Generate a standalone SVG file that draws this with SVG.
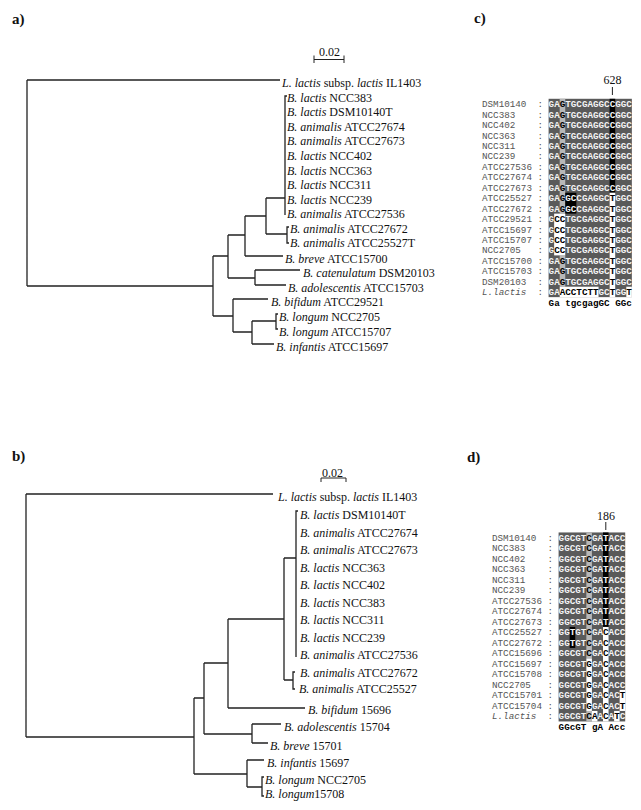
<svg xmlns="http://www.w3.org/2000/svg" width="641" height="810" viewBox="0 0 641 810">
<style>
.bg{fill:#fff}
.t{font-family:"Liberation Serif",serif;font-size:12px;fill:#111}
.i{font-style:italic}
.lbl{font-family:"Liberation Serif",serif;font-weight:bold;font-size:15px;fill:#111}
.m{font-family:"Liberation Mono",monospace;font-size:9.25px}
.nm{fill:#555}
.sq{font-weight:bold}
.w{fill:#f4f4f4}
.k{fill:#000}
.dg{fill:#5a5a5a}
.lg{fill:#b8b8b8}
.bk{fill:#000}
.wh{fill:#fff}
.ln{fill:none;stroke:#222;stroke-width:1.3}
.tk{fill:none;stroke:#222;stroke-width:1}
</style>
<rect class="bg" x="0" y="0" width="641" height="810"/>

<!-- panel labels -->
<text class="lbl" x="12" y="24">a)</text>
<text class="lbl" x="474" y="23">c)</text>
<text class="lbl" x="12" y="461">b)</text>
<text class="lbl" x="467" y="462">d)</text>

<!-- scale bars -->
<g id="scale-a">
<text class="t" x="319" y="56">0.02</text>
<path class="tk" d="M314 55.5V63M314 59.5H344M344 55.5V63"/>
</g>
<g id="scale-b">
<text class="t" x="322" y="476.5">0.02</text>
<path class="tk" d="M321 478H346M321 478V482M346 478V482"/>
</g>

<!-- tree a connectors -->
<g id="connectors-a">
<path class="ln" d="M27 80H280M27 80V286M27 286H213M213 256V316M213 256H228M228 235V278M228 235H245M245 216V256M245 216H266M266 198V234M266 198H285M287 96H285V215M266 234H287M289 227H287V243H289M245 256H283M228 278H255M255 270V285M255 270H300M255 285H286M213 316H233M233 299V332M233 299H268M233 332H252M252 321V344M252 321H276M278 314H276V329H278M252 344H274"/>
</g>

<!-- tree a leaves -->
<g id="a-llactis"><text class="t" x="282" y="87"><tspan class="i">L. lactis</tspan> subsp. <tspan class="i">lactis</tspan> IL1403</text></g>
<g id="a-ncc383"><text class="t" x="287" y="101.5"><tspan class="i">B. lactis</tspan> NCC383</text></g>
<g id="a-dsm10140t"><text class="t" x="287" y="116.1"><tspan class="i">B. lactis</tspan> DSM10140T</text></g>
<g id="a-atcc27674"><text class="t" x="287" y="130.7"><tspan class="i">B. animalis</tspan> ATCC27674</text></g>
<g id="a-atcc27673"><text class="t" x="287" y="145.3"><tspan class="i">B. animalis</tspan> ATCC27673</text></g>
<g id="a-ncc402"><text class="t" x="287" y="159.9"><tspan class="i">B. lactis</tspan> NCC402</text></g>
<g id="a-ncc363"><text class="t" x="287" y="174.5"><tspan class="i">B. lactis</tspan> NCC363</text></g>
<g id="a-ncc311"><text class="t" x="287" y="189.1"><tspan class="i">B. lactis</tspan> NCC311</text></g>
<g id="a-ncc239"><text class="t" x="287" y="203.7"><tspan class="i">B. lactis</tspan> NCC239</text></g>
<g id="a-atcc27536"><text class="t" x="287" y="218.3"><tspan class="i">B. animalis</tspan> ATCC27536</text></g>
<g id="a-atcc27672"><text class="t" x="290" y="233"><tspan class="i">B. animalis</tspan> ATCC27672</text></g>
<g id="a-atcc25527t"><text class="t" x="290" y="247"><tspan class="i">B. animalis</tspan> ATCC25527T</text></g>
<g id="a-breve"><text class="t" x="285" y="263"><tspan class="i">B. breve</tspan> ATCC15700</text></g>
<g id="a-catenulatum"><text class="t" x="303" y="277"><tspan class="i">B. catenulatum</tspan> DSM20103</text></g>
<g id="a-adolescentis"><text class="t" x="288" y="292"><tspan class="i">B. adolescentis</tspan> ATCC15703</text></g>
<g id="a-bifidum"><text class="t" x="271" y="306"><tspan class="i">B. bifidum</tspan> ATCC29521</text></g>
<g id="a-longum1"><text class="t" x="279" y="321"><tspan class="i">B. longum</tspan> NCC2705</text></g>
<g id="a-longum2"><text class="t" x="279" y="336"><tspan class="i">B. longum</tspan> ATCC15707</text></g>
<g id="a-infantis"><text class="t" x="276" y="351"><tspan class="i">B. infantis</tspan> ATCC15697</text></g>

<!-- tree b connectors -->
<g id="connectors-b">
<path class="ln" d="M26 494H273M26 494V737M26 737H194M194 698V774M194 698H204M204 663V734M204 663H228M228 619V708M228 619H284M284 558V680M284 558H296M298 511H296V657M284 680H293M295 672H293V689H295M228 708H305M204 734H252M252 724V743M252 724H281M252 743H268M194 774H247M247 760V787M247 760H264M247 787H262M264 777H262V796H264"/>
</g>

<!-- tree b leaves -->
<g id="b-llactis"><text class="t" x="278" y="501"><tspan class="i">L. lactis</tspan> subsp. <tspan class="i">lactis</tspan> IL1403</text></g>
<g id="b-dsm10140t"><text class="t" x="300" y="519"><tspan class="i">B. lactis</tspan> DSM10140T</text></g>
<g id="b-atcc27674"><text class="t" x="300" y="536.5"><tspan class="i">B. animalis</tspan> ATCC27674</text></g>
<g id="b-atcc27673"><text class="t" x="300" y="554"><tspan class="i">B. animalis</tspan> ATCC27673</text></g>
<g id="b-ncc363"><text class="t" x="300" y="571.5"><tspan class="i">B. lactis</tspan> NCC363</text></g>
<g id="b-ncc402"><text class="t" x="300" y="589"><tspan class="i">B. lactis</tspan> NCC402</text></g>
<g id="b-ncc383"><text class="t" x="300" y="606.5"><tspan class="i">B. lactis</tspan> NCC383</text></g>
<g id="b-ncc311"><text class="t" x="300" y="624"><tspan class="i">B. lactis</tspan> NCC311</text></g>
<g id="b-ncc239"><text class="t" x="300" y="641.5"><tspan class="i">B. lactis</tspan> NCC239</text></g>
<g id="b-atcc27536"><text class="t" x="300" y="659"><tspan class="i">B. animalis</tspan> ATCC27536</text></g>
<g id="b-atcc27672"><text class="t" x="300" y="677"><tspan class="i">B. animalis</tspan> ATCC27672</text></g>
<g id="b-atcc25527"><text class="t" x="299" y="693"><tspan class="i">B. animalis</tspan> ATCC25527</text></g>
<g id="b-bifidum"><text class="t" x="308" y="714"><tspan class="i">B. bifidum</tspan> 15696</text></g>
<g id="b-adolescentis"><text class="t" x="284" y="731"><tspan class="i">B. adolescentis</tspan> 15704</text></g>
<g id="b-breve"><text class="t" x="270" y="750"><tspan class="i">B. breve</tspan> 15701</text></g>
<g id="b-infantis"><text class="t" x="267" y="767"><tspan class="i">B. infantis</tspan> 15697</text></g>
<g id="b-longum1"><text class="t" x="265" y="784"><tspan class="i">B. longum</tspan> NCC2705</text></g>
<g id="b-longum2"><text class="t" x="265" y="798"><tspan class="i">B. longum</tspan>15708</text></g>

<!-- alignment c -->
<g id="align-c">
<text class="t" x="612.4" y="84" text-anchor="middle">628</text>
<path class="tk" d="M612.4 87V95"/>
<rect class="dg" x="548.6" y="98.78" width="83.25" height="198.36"/>
<rect class="lg" x="559.7" y="98.78" width="5.55" height="114.84"/>
<rect class="lg" x="559.7" y="255.38" width="5.55" height="31.32"/>
<rect class="bk" x="609.65" y="98.78" width="5.55" height="93.96"/>
<rect class="bk" x="565.25" y="192.74" width="11.1" height="20.88"/>
<rect class="wh" x="609.65" y="192.74" width="5.55" height="104.4"/>
<rect class="wh" x="554.15" y="213.62" width="11.1" height="41.76"/>
<rect class="wh" x="559.7" y="286.7" width="38.85" height="10.44"/>
<rect class="wh" x="626.3" y="286.7" width="5.55" height="10.44"/>
<g class="m nm">
<text x="482" y="107.2">DSM10140</text>
<text x="482" y="117.6">NCC383</text>
<text x="482" y="128.1">NCC402</text>
<text x="482" y="138.5">NCC363</text>
<text x="482" y="149">NCC311</text>
<text x="482" y="159.4">NCC239</text>
<text x="482" y="169.8">ATCC27536</text>
<text x="482" y="180.3">ATCC27674</text>
<text x="482" y="190.7">ATCC27673</text>
<text x="482" y="201.2">ATCC25527</text>
<text x="482" y="211.6">ATCC27672</text>
<text x="482" y="222">ATCC29521</text>
<text x="482" y="232.5">ATCC15697</text>
<text x="482" y="242.9">ATCC15707</text>
<text x="482" y="253.4">NCC2705</text>
<text x="482" y="263.8">ATCC15700</text>
<text x="482" y="274.2">ATCC15703</text>
<text x="482" y="284.7">DSM20103</text>
<text x="482" y="295.1" font-style="italic">L.lactis</text>
<text x="537.5" y="107.2">:</text><text x="537.5" y="117.6">:</text><text x="537.5" y="128.1">:</text><text x="537.5" y="138.5">:</text><text x="537.5" y="149">:</text><text x="537.5" y="159.4">:</text><text x="537.5" y="169.8">:</text><text x="537.5" y="180.3">:</text><text x="537.5" y="190.7">:</text><text x="537.5" y="201.2">:</text><text x="537.5" y="211.6">:</text><text x="537.5" y="222">:</text><text x="537.5" y="232.5">:</text><text x="537.5" y="242.9">:</text><text x="537.5" y="253.4">:</text><text x="537.5" y="263.8">:</text><text x="537.5" y="274.2">:</text><text x="537.5" y="284.7">:</text><text x="537.5" y="295.1">:</text>
</g>
<g class="m sq">
<text x="548.6" y="107.2"><tspan class="w">GA</tspan><tspan class="k">G</tspan><tspan class="w">TGCGAGGCCGGC</tspan></text>
<text x="548.6" y="117.6"><tspan class="w">GA</tspan><tspan class="k">G</tspan><tspan class="w">TGCGAGGCCGGC</tspan></text>
<text x="548.6" y="128.1"><tspan class="w">GA</tspan><tspan class="k">G</tspan><tspan class="w">TGCGAGGCCGGC</tspan></text>
<text x="548.6" y="138.5"><tspan class="w">GA</tspan><tspan class="k">G</tspan><tspan class="w">TGCGAGGCCGGC</tspan></text>
<text x="548.6" y="149"><tspan class="w">GA</tspan><tspan class="k">G</tspan><tspan class="w">TGCGAGGCCGGC</tspan></text>
<text x="548.6" y="159.4"><tspan class="w">GA</tspan><tspan class="k">G</tspan><tspan class="w">TGCGAGGCCGGC</tspan></text>
<text x="548.6" y="169.8"><tspan class="w">GA</tspan><tspan class="k">G</tspan><tspan class="w">TGCGAGGCCGGC</tspan></text>
<text x="548.6" y="180.3"><tspan class="w">GA</tspan><tspan class="k">G</tspan><tspan class="w">TGCGAGGCCGGC</tspan></text>
<text x="548.6" y="190.7"><tspan class="w">GA</tspan><tspan class="k">G</tspan><tspan class="w">TGCGAGGCCGGC</tspan></text>
<text x="548.6" y="201.2"><tspan class="w">GA</tspan><tspan class="k">G</tspan><tspan class="w">GCCGAGGC</tspan><tspan class="k">T</tspan><tspan class="w">GGC</tspan></text>
<text x="548.6" y="211.6"><tspan class="w">GA</tspan><tspan class="k">G</tspan><tspan class="w">GCCGAGGC</tspan><tspan class="k">T</tspan><tspan class="w">GGC</tspan></text>
<text x="548.6" y="222"><tspan class="w">G</tspan><tspan class="k">CC</tspan><tspan class="w">TGCGAGGC</tspan><tspan class="k">T</tspan><tspan class="w">GGC</tspan></text>
<text x="548.6" y="232.5"><tspan class="w">G</tspan><tspan class="k">CC</tspan><tspan class="w">TGCGAGGC</tspan><tspan class="k">T</tspan><tspan class="w">GGC</tspan></text>
<text x="548.6" y="242.9"><tspan class="w">G</tspan><tspan class="k">CC</tspan><tspan class="w">TGCGAGGC</tspan><tspan class="k">T</tspan><tspan class="w">GGC</tspan></text>
<text x="548.6" y="253.4"><tspan class="w">G</tspan><tspan class="k">CC</tspan><tspan class="w">TGCGAGGC</tspan><tspan class="k">T</tspan><tspan class="w">GGC</tspan></text>
<text x="548.6" y="263.8"><tspan class="w">GA</tspan><tspan class="k">G</tspan><tspan class="w">TGCGAGGC</tspan><tspan class="k">T</tspan><tspan class="w">GGC</tspan></text>
<text x="548.6" y="274.2"><tspan class="w">GA</tspan><tspan class="k">G</tspan><tspan class="w">TGCGAGGC</tspan><tspan class="k">T</tspan><tspan class="w">GGC</tspan></text>
<text x="548.6" y="284.7"><tspan class="w">GA</tspan><tspan class="k">G</tspan><tspan class="w">TGCGAGGC</tspan><tspan class="k">T</tspan><tspan class="w">GGC</tspan></text>
<text x="548.6" y="295.1"><tspan class="w">GA</tspan><tspan class="k">ACCTCTT</tspan><tspan class="w">GC</tspan><tspan class="k">T</tspan><tspan class="w">GG</tspan><tspan class="k">T</tspan></text>
<text class="k" x="548.6" y="305.6" xml:space="preserve">Ga tgcgagGC GGc</text>
</g>
</g>

<!-- alignment d -->
<g id="align-d">
<text class="t" x="606.1" y="520" text-anchor="middle">186</text>
<path class="tk" d="M605.8 522V530"/>
<rect class="dg" x="558.6" y="532.45" width="66.6" height="189"/>
<rect class="lg" x="586.35" y="532.45" width="5.55" height="126"/>
<rect class="lg" x="586.35" y="710.95" width="5.55" height="10.5"/>
<rect class="bk" x="603" y="532.45" width="5.55" height="94.5"/>
<rect class="bk" x="569.7" y="626.95" width="5.55" height="21"/>
<rect class="wh" x="603" y="626.95" width="5.55" height="94.5"/>
<rect class="wh" x="586.35" y="658.45" width="5.55" height="52.5"/>
<rect class="wh" x="619.65" y="689.95" width="5.55" height="21"/>
<rect class="wh" x="591.9" y="710.95" width="5.55" height="10.5"/>
<rect class="wh" x="614.1" y="710.95" width="5.55" height="10.5"/>
<g class="m nm">
<text x="492" y="540.9">DSM10140</text>
<text x="492" y="551.4">NCC383</text>
<text x="492" y="561.9">NCC402</text>
<text x="492" y="572.4">NCC363</text>
<text x="492" y="582.9">NCC311</text>
<text x="492" y="593.4">NCC239</text>
<text x="492" y="603.9">ATCC27536</text>
<text x="492" y="614.4">ATCC27674</text>
<text x="492" y="624.9">ATCC27673</text>
<text x="492" y="635.4">ATCC25527</text>
<text x="492" y="645.9">ATCC27672</text>
<text x="492" y="656.4">ATCC15696</text>
<text x="492" y="666.9">ATCC15697</text>
<text x="492" y="677.4">ATCC15708</text>
<text x="492" y="687.9">NCC2705</text>
<text x="492" y="698.4">ATCC15701</text>
<text x="492" y="708.9">ATCC15704</text>
<text x="492" y="719.4" font-style="italic">L.lactis</text>
<text x="547.5" y="540.9">:</text><text x="547.5" y="551.4">:</text><text x="547.5" y="561.9">:</text><text x="547.5" y="572.4">:</text><text x="547.5" y="582.9">:</text><text x="547.5" y="593.4">:</text><text x="547.5" y="603.9">:</text><text x="547.5" y="614.4">:</text><text x="547.5" y="624.9">:</text><text x="547.5" y="635.4">:</text><text x="547.5" y="645.9">:</text><text x="547.5" y="656.4">:</text><text x="547.5" y="666.9">:</text><text x="547.5" y="677.4">:</text><text x="547.5" y="687.9">:</text><text x="547.5" y="698.4">:</text><text x="547.5" y="708.9">:</text><text x="547.5" y="719.4">:</text>
</g>
<g class="m sq">
<text x="558.6" y="540.9"><tspan class="w">GGCGT</tspan><tspan class="k">C</tspan><tspan class="w">GATACC</tspan></text>
<text x="558.6" y="551.4"><tspan class="w">GGCGT</tspan><tspan class="k">C</tspan><tspan class="w">GATACC</tspan></text>
<text x="558.6" y="561.9"><tspan class="w">GGCGT</tspan><tspan class="k">C</tspan><tspan class="w">GATACC</tspan></text>
<text x="558.6" y="572.4"><tspan class="w">GGCGT</tspan><tspan class="k">C</tspan><tspan class="w">GATACC</tspan></text>
<text x="558.6" y="582.9"><tspan class="w">GGCGT</tspan><tspan class="k">C</tspan><tspan class="w">GATACC</tspan></text>
<text x="558.6" y="593.4"><tspan class="w">GGCGT</tspan><tspan class="k">C</tspan><tspan class="w">GATACC</tspan></text>
<text x="558.6" y="603.9"><tspan class="w">GGCGT</tspan><tspan class="k">C</tspan><tspan class="w">GATACC</tspan></text>
<text x="558.6" y="614.4"><tspan class="w">GGCGT</tspan><tspan class="k">C</tspan><tspan class="w">GATACC</tspan></text>
<text x="558.6" y="624.9"><tspan class="w">GGCGT</tspan><tspan class="k">C</tspan><tspan class="w">GATACC</tspan></text>
<text x="558.6" y="635.4"><tspan class="w">GGTGT</tspan><tspan class="k">C</tspan><tspan class="w">GA</tspan><tspan class="k">C</tspan><tspan class="w">ACC</tspan></text>
<text x="558.6" y="645.9"><tspan class="w">GGTGT</tspan><tspan class="k">C</tspan><tspan class="w">GA</tspan><tspan class="k">C</tspan><tspan class="w">ACC</tspan></text>
<text x="558.6" y="656.4"><tspan class="w">GGCGT</tspan><tspan class="k">C</tspan><tspan class="w">GA</tspan><tspan class="k">C</tspan><tspan class="w">ACC</tspan></text>
<text x="558.6" y="666.9"><tspan class="w">GGCGT</tspan><tspan class="k">G</tspan><tspan class="w">GA</tspan><tspan class="k">C</tspan><tspan class="w">ACC</tspan></text>
<text x="558.6" y="677.4"><tspan class="w">GGCGT</tspan><tspan class="k">G</tspan><tspan class="w">GA</tspan><tspan class="k">C</tspan><tspan class="w">ACC</tspan></text>
<text x="558.6" y="687.9"><tspan class="w">GGCGT</tspan><tspan class="k">G</tspan><tspan class="w">GA</tspan><tspan class="k">C</tspan><tspan class="w">ACC</tspan></text>
<text x="558.6" y="698.4"><tspan class="w">GGCGT</tspan><tspan class="k">G</tspan><tspan class="w">GA</tspan><tspan class="k">C</tspan><tspan class="w">AC</tspan><tspan class="k">T</tspan></text>
<text x="558.6" y="708.9"><tspan class="w">GGCGT</tspan><tspan class="k">G</tspan><tspan class="w">GA</tspan><tspan class="k">C</tspan><tspan class="w">AC</tspan><tspan class="k">T</tspan></text>
<text x="558.6" y="719.4"><tspan class="w">GGCGT</tspan><tspan class="k">CA</tspan><tspan class="w">A</tspan><tspan class="k">C</tspan><tspan class="w">A</tspan><tspan class="k">T</tspan><tspan class="w">C</tspan></text>
<text class="k" x="558.6" y="729.9" xml:space="preserve">GGcGT gA Acc</text>
</g>
</g>
</svg>
